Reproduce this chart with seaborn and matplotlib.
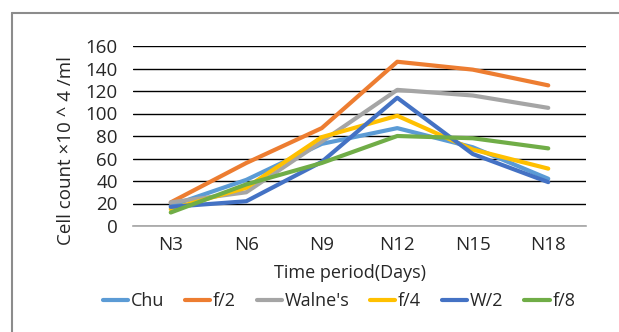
import matplotlib
matplotlib.use("Agg")
import matplotlib.pyplot as plt
import seaborn as sns
import pandas as pd
from matplotlib.lines import Line2D

# Sampling days and growth media
days = ["N3", "N6", "N9", "N12", "N15", "N18"]
media = ["Chu", "f/2", "Walne's", "f/4", "W/2", "f/8"]

# Cell counts (x10^4 per ml) for each medium
chu = [18, 41, 73, 87, 70, 42]
f2 = [21, 56, 87, 146, 139, 125]
walnes = [21, 30, 75, 121, 116, 105]
f4 = [15, 34, 79, 98, 68, 51]
w2 = [17, 22, 57, 114, 64, 39]
f8 = [12, 37, 56, 80, 78, 69]

y_ticks = [0, 20, 40, 60, 80, 100, 120, 140, 160]

series = [chu, f2, walnes, f4, w2, f8]
colors = ["#5B9BD5", "#ED7D31", "#A5A5A5", "#FFC000", "#4472C4", "#70AD47"]

rows = []
for name, vals in zip(media, series):
    for d, v in zip(days, vals):
        rows.append({"day": d, "count": v, "medium": name})
df = pd.DataFrame(rows)

sns.set_theme(style="white")
plt.rcParams["font.family"] = ["Open Sans", "DejaVu Sans"]
text_color = "#262626"

fig = plt.figure(figsize=(6.19, 3.32), dpi=100)
W, H = 619, 332
ax = fig.add_axes([133 / W, 1 - 226 / H, (586 - 133) / W, (226 - 46) / H])

sns.lineplot(data=df, x="day", y="count", hue="medium", hue_order=media,
             palette=colors, linewidth=3.0, sort=False, ax=ax, legend=False)

ax.set_xlim(-0.5, len(days) - 0.5)
ax.set_ylim(0, 160)
ax.set_yticks(y_ticks)
ax.grid(axis="y", color="black", linewidth=1.0)
ax.grid(axis="x", visible=False)
ax.set_axisbelow(True)
for s in ["left", "right", "top"]:
    ax.spines[s].set_visible(False)
ax.spines["bottom"].set_color("#A6A6A6")
ax.spines["bottom"].set_linewidth(1.2)
ax.tick_params(axis="y", length=0, pad=11, labelsize=13.5, labelcolor=text_color)
ax.tick_params(axis="x", length=0, pad=7, labelsize=13.5, labelcolor=text_color)

ax.set_xlabel("Time period(Days)", fontsize=13, color=text_color)
ax.xaxis.set_label_coords(0.48, -0.21)
ax.set_ylabel("Cell count \u00d710 ^ 4 /ml", fontsize=13.5, color=text_color)
ax.yaxis.set_label_coords(-0.127, 0.42)

handles = [Line2D([0], [0], color=c, linewidth=3.0, solid_capstyle="round") for c in colors]
fig.legend(handles, media, loc="center", bbox_to_anchor=(339 / W, 1 - 301 / H),
           ncol=6, frameon=False, fontsize=13, handlelength=1.4,
           handletextpad=0.15, columnspacing=1.15, labelcolor=text_color)

# Chart frame (left and top edges)
frame_color = "#8C8C8C"
fig.add_artist(Line2D([12 / W, 12 / W], [0, 1 - 13 / H], transform=fig.transFigure,
                      color=frame_color, linewidth=1.5))
fig.add_artist(Line2D([12 / W, 1], [1 - 13 / H, 1 - 13 / H], transform=fig.transFigure,
                      color=frame_color, linewidth=1.5))

fig.savefig("out.png", dpi=100)
